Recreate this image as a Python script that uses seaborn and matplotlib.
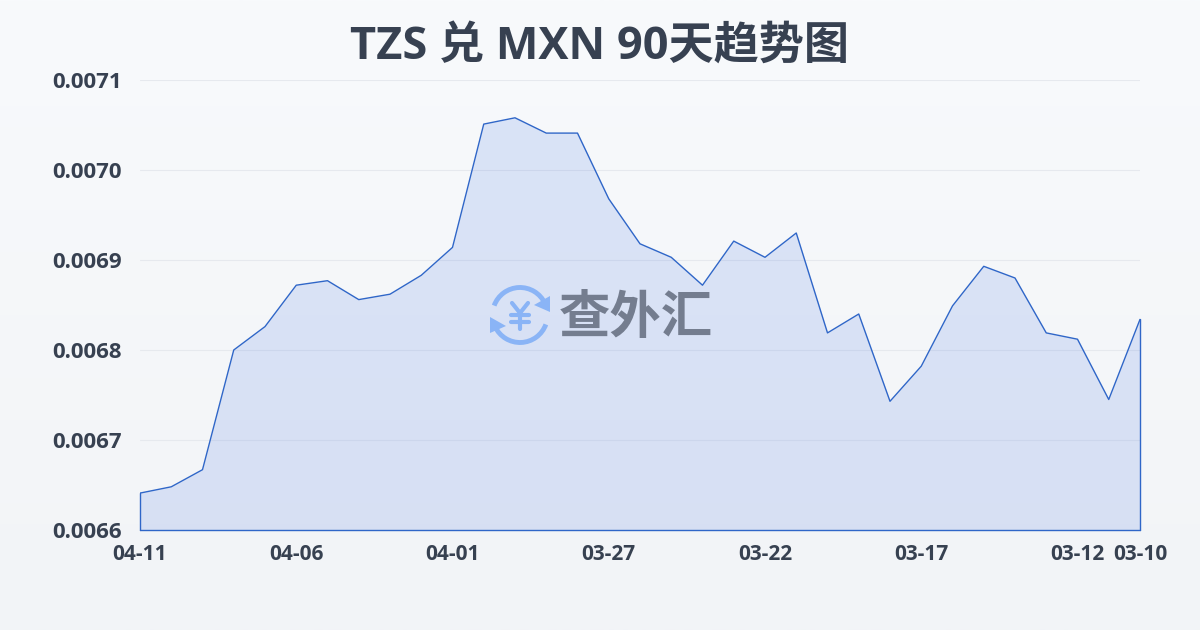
import numpy as np
import pandas as pd
import seaborn as sns
import matplotlib
matplotlib.use('Agg')
import matplotlib.pyplot as plt
from matplotlib.patches import Arc, Polygon

# Chart data, newest day first as on the original axis
day_index = list(range(33))
rates = [
    0.006641, 0.006648, 0.006667, 0.006800, 0.006826, 0.006872, 0.006877,
    0.006856, 0.006862, 0.006883, 0.006914, 0.007051, 0.007058, 0.007041,
    0.007041, 0.006968, 0.006918, 0.006903, 0.006872, 0.006921, 0.006903,
    0.006930, 0.006819, 0.006840, 0.006743, 0.006782, 0.006849, 0.006893,
    0.006880, 0.006819, 0.006812, 0.006745, 0.006834,
]
x_ticks = [0, 5, 10, 15, 20, 25, 30, 32]
x_labels = ['04-11', '04-06', '04-01', '03-27', '03-22', '03-17', '03-12', '03-10']
y_ticks = [0.0066, 0.0067, 0.0068, 0.0069, 0.0070, 0.0071]
title = 'TZS 兑 MXN 90天趋势图'

TEXT = '#374151'
LINE = '#2f66c8'
FONTS = ['Open Sans', 'Noto Sans CJK SC', 'DejaVu Sans']

sns.set_theme(style='white')
plt.rcParams['font.family'] = FONTS

df = pd.DataFrame({'day': day_index, 'rate': rates})

fig = plt.figure(figsize=(12, 6.3), dpi=100)

# Page background, a faint vertical gradient
bg = fig.add_axes([0, 0, 1, 1], zorder=0)
bg.imshow(np.linspace(0, 1, 256).reshape(-1, 1), aspect='auto',
          cmap=matplotlib.colors.LinearSegmentedColormap.from_list('bg', ['#f8fafc', '#f2f4f7']))
bg.axis('off')

ax = fig.add_axes([140 / 1200, 1 - 530 / 630, 1000 / 1200, 450 / 630], zorder=1)
ax.patch.set_alpha(0)

ax.fill_between(df['day'], df['rate'], 0.0066, color='#2f66e0', alpha=0.14, lw=0, zorder=2)
sns.lineplot(data=df, x='day', y='rate', ax=ax, color=LINE, lw=1, zorder=3)
# outline closes around the area
ax.plot([0, 0], [0.0066, rates[0]], color=LINE, lw=1, zorder=3, clip_on=False)
ax.plot([32, 32], [0.0066, rates[-1]], color=LINE, lw=1, zorder=3, clip_on=False)
ax.plot([0, 32], [0.0066, 0.0066], color=LINE, lw=1, zorder=3, clip_on=False)

ax.set_xlim(0, 32)
ax.set_ylim(0.0066, 0.0071)
ax.set_xticks(x_ticks, x_labels)
ax.set_yticks(y_ticks, [f'{v:.4f}' for v in y_ticks])
ax.set_xlabel('')
ax.set_ylabel('')
ax.grid(axis='y', color='#e6e9ee', lw=0.8, zorder=1)
ax.set_axisbelow(True)
for side in ax.spines.values():
    side.set_visible(False)
ax.tick_params(axis='x', length=8, width=0.8, color='#e6e9ee', pad=2, labelsize=15, labelcolor=TEXT)
ax.tick_params(axis='y', length=0, pad=13, labelsize=16, labelcolor=TEXT)
for lab in ax.get_xticklabels() + ax.get_yticklabels():
    lab.set_fontweight('bold')

fig.text(0.5, 1 - 47 / 630, title, ha='center', va='center', fontsize=32.5,
         fontweight='bold', color=TEXT, family=FONTS)

# Watermark on a pixel-based overlay
logo = fig.add_axes([0, 0, 1, 1], zorder=2)
logo.set_xlim(0, 1200)
logo.set_ylim(630, 0)
logo.axis('off')
BLUE = '#8ab4f6'
logo.add_patch(Arc((520, 315), 55, 55, theta1=200, theta2=335, color=BLUE, lw=3.5))
logo.add_patch(Arc((520, 315), 55, 55, theta1=20, theta2=155, color=BLUE, lw=3.5))
logo.add_patch(Polygon([[550, 296], [550, 312], [534, 305]], closed=True, color=BLUE, lw=0))
logo.add_patch(Polygon([[490, 317], [490, 333], [506, 326]], closed=True, color=BLUE, lw=0))
# yen sign drawn as strokes, it is rounder than the font glyph
for xs, ys in [((512, 520, 528), (303, 313, 303)), ((511, 529), (315, 315)),
               ((511, 529), (322, 322)), ((520, 520), (313, 329))]:
    logo.plot(xs, ys, color=BLUE, lw=3, solid_capstyle='round', solid_joinstyle='round')
logo.text(636, 320, '查外汇', ha='center', va='center', fontsize=37, fontweight='bold',
          color='#747d8f', family=FONTS)

fig.savefig('out.png', dpi=100)
